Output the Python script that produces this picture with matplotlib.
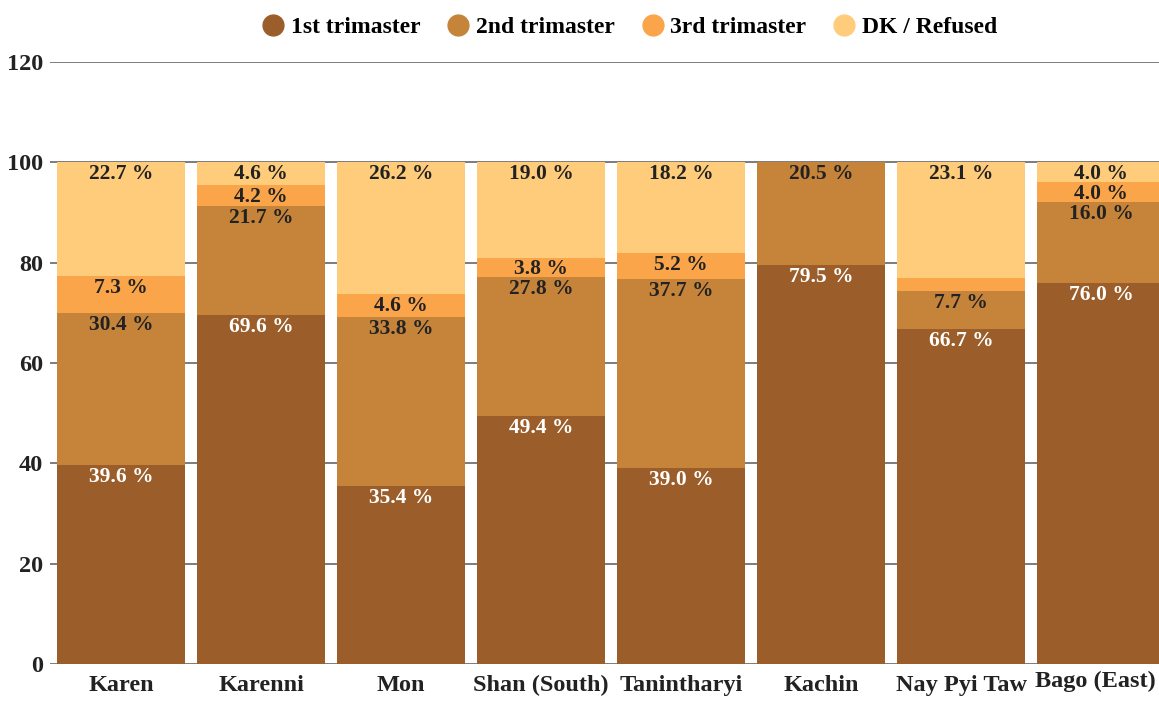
import matplotlib
matplotlib.use('Agg')
import matplotlib.pyplot as plt
import matplotlib.transforms as mtransforms
from matplotlib.lines import Line2D

plt.rcParams['font.family'] = ['Liberation Serif', 'DejaVu Serif']
plt.rcParams['font.weight'] = 'bold'

# data
regions = ['Karen', 'Karenni', 'Mon', 'Shan (South)', 'Tanintharyi',
           'Kachin', 'Nay Pyi Taw', 'Bago (East)']
first = [39.6, 69.6, 35.4, 49.4, 39.0, 79.5, 66.7, 76.0]
second = [30.4, 21.7, 33.8, 27.8, 37.7, 20.5, 7.7, 16.0]
third = [7.3, 4.2, 4.6, 3.8, 5.2, 0.0, 2.5, 4.0]
dk = [22.7, 4.6, 26.2, 19.0, 18.2, 0.0, 23.1, 4.0]
series_names = ['1st trimaster', '2nd trimaster', '3rd trimaster', 'DK / Refused']
# which segments get a label
show_third = [True, True, True, True, True, False, False, True]
show_dk = [True, True, True, True, True, False, True, True]

colors = ['#9B5E2A', '#C5843A', '#FAA54A', '#FECC7B']
text_dark = '#222222'

W, H = 1159, 702
fig = plt.figure(figsize=(W / 100, H / 100), dpi=100)
ax = fig.add_axes([50 / W, (H - 664) / H, 1109 / W, 602 / H])

x = list(range(len(regions)))
series = [first, second, third, dk]
shows = [[True] * 8, [True] * 8, show_third, show_dk]
bottom = [0.0] * len(regions)
for vals, col, show in zip(series, colors, shows):
    ax.bar(x, vals, width=0.914, bottom=bottom, color=col, zorder=2)
    for i, v in enumerate(vals):
        if not show[i] or v <= 0:
            continue
        top = bottom[i] + v
        tc = 'white' if col == colors[0] else text_dark
        ax.annotate(f'{v:.1f} %', (i, top), xytext=(0, -8.5),
                    textcoords='offset points', ha='center', va='center',
                    fontsize=15.5, fontweight='bold', color=tc, zorder=3)
    bottom = [b + v for b, v in zip(bottom, vals)]

ax.set_xlim(-0.507, 7.414)
ax.set_ylim(0, 120)
ax.set_yticks(range(0, 121, 20))
ax.yaxis.grid(True, color='#666666', linewidth=1.2, zorder=0)
ax.set_axisbelow(True)
for s in ax.spines.values():
    s.set_visible(False)
ax.tick_params(axis='y', length=0, pad=5, labelsize=17.5, labelcolor=text_dark)
ax.tick_params(axis='x', length=0, pad=8, labelsize=17.5, labelcolor=text_dark)
ax.set_xticks(x)
ax.set_xticklabels(regions, fontweight='bold')
for lab in ax.get_yticklabels():
    lab.set_fontweight('bold')

# last label sits a bit higher and is nudged in from the edge
last = ax.get_xticklabels()[-1]
last.set_transform(last.get_transform() +
                   mtransforms.ScaledTranslation(-4 / 72, 3 / 72, fig.dpi_scale_trans))

handles = [Line2D([], [], marker='o', linestyle='none', markersize=15,
                  markerfacecolor=c, markeredgecolor=c) for c in colors]
fig.legend(handles, series_names, loc='center', bbox_to_anchor=(0.541, 1 - 27 / H),
           ncol=4, frameon=False, handletextpad=0.05, handlelength=1.4,
           columnspacing=0.9, prop={'weight': 'bold', 'size': 17})

fig.savefig('out.png', dpi=100)
